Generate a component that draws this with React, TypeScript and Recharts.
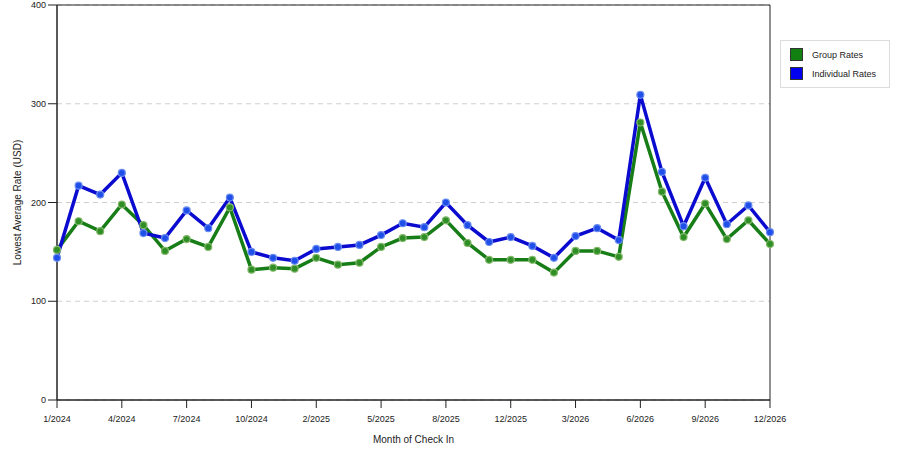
import {
  CartesianGrid,
  Line,
  LineChart,
  ReferenceArea,
  XAxis,
  YAxis,
} from "recharts";

const months = [
  "1/2024", "2/2024", "3/2024", "4/2024", "5/2024", "6/2024",
  "7/2024", "8/2024", "9/2024", "10/2024", "11/2024", "12/2024",
  "2/2025", "3/2025", "4/2025", "5/2025", "6/2025", "7/2025",
  "8/2025", "9/2025", "10/2025", "12/2025", "1/2026", "2/2026",
  "3/2026", "4/2026", "5/2026", "6/2026", "7/2026", "8/2026",
  "9/2026", "10/2026", "11/2026", "12/2026",
];

const groupRates = [
  152, 181, 171, 198, 177, 151, 163, 155, 195, 132, 134, 133,
  144, 137, 139, 155, 164, 165, 182, 159, 142, 142, 142, 129,
  151, 151, 145, 281, 211, 165, 199, 163, 182, 158,
];

const individualRates = [
  144, 217, 208, 230, 169, 164, 192, 174, 205, 150, 144, 141,
  153, 155, 157, 167, 179, 175, 200, 177, 160, 165, 156, 144,
  166, 174, 162, 309, 231, 176, 225, 178, 197, 170,
];

const yTicks = [0, 100, 200, 300, 400];

const data = months.map((m, i) => ({
  month: m,
  group: groupRates[i],
  individual: individualRates[i],
}));

const font = "'Liberation Sans', Arial, sans-serif";
const ink = "#222";

function YTitle({ viewBox }: any) {
  const cx = viewBox.x + 18;
  const cy = viewBox.y + viewBox.height / 2;
  return (
    <text
      x={cx}
      y={cy}
      transform={`rotate(-90 ${cx} ${cy})`}
      textAnchor="middle"
      dominantBaseline="middle"
      fontSize={10}
      fill={ink}
      fontFamily={font}
    >
      Lowest Average Rate (USD)
    </text>
  );
}

function LegendBox() {
  const items = [
    { name: "Group Rates", color: "#118011" },
    { name: "Individual Rates", color: "#0000f0" },
  ];
  return (
    <div
      style={{
        position: "absolute",
        left: 780,
        top: 40,
        width: 108,
        height: 46,
        border: "1px solid #dcdcdc",
        fontFamily: font,
        fontSize: 9,
        color: ink,
      }}
    >
      {items.map((it, i) => (
        <div
          key={it.name}
          style={{
            position: "absolute",
            left: 9,
            top: 7 + i * 19,
            display: "flex",
            alignItems: "center",
            height: 13,
          }}
        >
          <span
            style={{
              width: 11,
              height: 11,
              background: it.color,
              border: "1px solid #333",
              marginRight: 9,
            }}
          />
          {it.name}
        </div>
      ))}
    </div>
  );
}

export default function App() {
  return (
    <div
      style={{
        position: "absolute",
        left: 0,
        top: 0,
        width: 900,
        height: 450,
        background: "#fff",
      }}
    >
      <LineChart
        width={900}
        height={450}
        data={data}
        margin={{ top: 5, right: 130, left: 0, bottom: 0 }}
      >
        <CartesianGrid
          vertical={false}
          stroke="#cfcfcf"
          strokeDasharray="5 4"
        />
        <XAxis
          dataKey="month"
          height={50}
          interval={2}
          tickSize={8}
          tickMargin={8}
          stroke={ink}
          tick={{ fontSize: 9, fill: ink, fontFamily: font }}
          label={{
            value: "Month of Check In",
            position: "insideBottom",
            offset: 7,
            fontSize: 10,
            fill: ink,
            fontFamily: font,
          }}
        />
        <YAxis
          width={57}
          domain={[0, 400]}
          ticks={yTicks}
          tickSize={9}
          tickMargin={2}
          stroke={ink}
          tick={{ fontSize: 9, fill: ink, fontFamily: font }}
          label={<YTitle />}
        />
        <ReferenceArea
          x1={months[0]}
          x2={months[months.length - 1]}
          y1={0}
          y2={400}
          fill="none"
          fillOpacity={0}
          stroke={ink}
          strokeWidth={1}
        />
        <Line
          dataKey="group"
          name="Group Rates"
          stroke="#177d17"
          strokeWidth={3.5}
          dot={{ r: 3.5, fill: "#2f8f26", stroke: "#84b86c", strokeWidth: 1.2 }}
          activeDot={false}
          isAnimationActive={false}
        />
        <Line
          dataKey="individual"
          name="Individual Rates"
          stroke="#0b0bd0"
          strokeWidth={3.5}
          dot={{ r: 3.5, fill: "#1f4fe8", stroke: "#6a8cf0", strokeWidth: 1.2 }}
          activeDot={false}
          isAnimationActive={false}
        />
      </LineChart>
      <LegendBox />
    </div>
  );
}
